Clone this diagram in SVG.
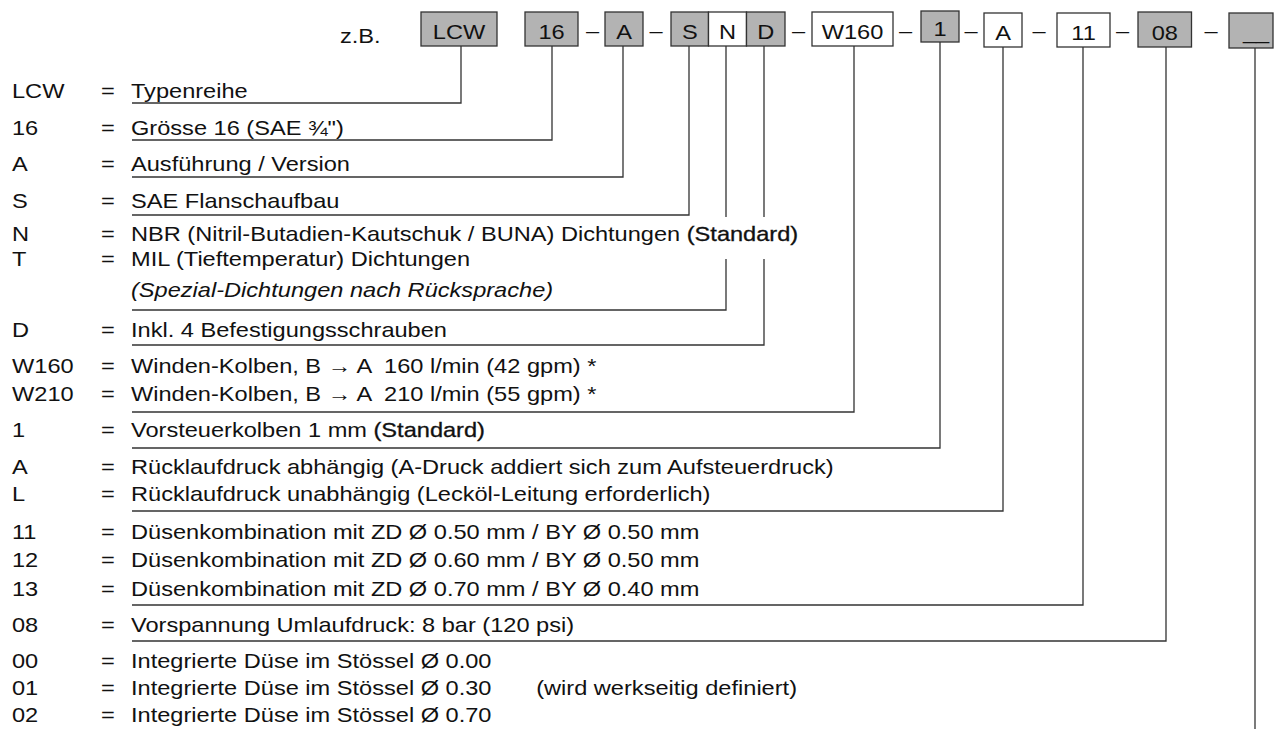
<svg xmlns="http://www.w3.org/2000/svg" width="1274" height="729" viewBox="0 0 1274 729">
<style>
.t{font-family:"Liberation Sans",Arial,sans-serif;font-size:20px;fill:#111}
.c{text-anchor:middle}
.e{text-anchor:end}
.b{stroke:#111;stroke-width:0.3}
.i{font-style:italic}
.g{fill:#b3b3b3;stroke:#333;stroke-width:1.3}
.w{fill:#fff;stroke:#333;stroke-width:1.3}
.ln{fill:none;stroke:#333;stroke-width:1.3}
</style>
<rect width="1274" height="729" fill="#fff"/>
<g id="connectors" class="ln">
<path d="M461,46V103H132"/>
<path d="M552,46V140H132"/>
<path d="M623,46V177H132"/>
<path d="M689,46V215H132"/>
<path d="M726,46V217M726,259V310H132"/>
<path d="M764,46V217M764,259V345H132"/>
<path d="M854,46V412H132"/>
<path d="M940,42V448H132"/>
<path d="M1003,47V511H132"/>
<path d="M1083,47V605H132"/>
<path d="M1166,47V641H132"/>
<path d="M1255,48V729"/>
</g>
<g id="header">
<text class="t" transform="translate(340,43) scale(1.18,1)">z.B.</text>
<g id="box-LCW"><rect class="g" x="421" y="12" width="76" height="34"/><text class="t c" transform="translate(459,38.5) scale(1.18,1)">LCW</text></g>
<g id="box-16"><rect class="g" x="525" y="12" width="53" height="34"/><text class="t c" transform="translate(551.5,38.5) scale(1.18,1)">16</text></g>
<text class="t c" transform="translate(592.5,38) scale(1.18,1)">–</text>
<g id="box-A"><rect class="g" x="605" y="12" width="38" height="34"/><text class="t c" transform="translate(624,38.5) scale(1.18,1)">A</text></g>
<text class="t c" transform="translate(656,38) scale(1.18,1)">–</text>
<g id="box-S"><rect class="g" x="671" y="12" width="37.5" height="34"/><text class="t c" transform="translate(689.8,38.5) scale(1.18,1)">S</text></g>
<g id="box-N"><rect class="w" x="708.5" y="12" width="38" height="34"/><text class="t c" transform="translate(727.5,38.5) scale(1.18,1)">N</text></g>
<g id="box-D"><rect class="g" x="746.5" y="12" width="38.5" height="34"/><text class="t c" transform="translate(765.8,38.5) scale(1.18,1)">D</text></g>
<text class="t c" transform="translate(798.5,38) scale(1.18,1)">–</text>
<g id="box-W160"><rect class="w" x="812" y="12" width="81" height="34"/><text class="t c" transform="translate(852.5,38.5) scale(1.18,1)">W160</text></g>
<text class="t c" transform="translate(905.5,38) scale(1.18,1)">–</text>
<g id="box-1"><rect class="g" x="921" y="11" width="38" height="31"/><text class="t c" transform="translate(940,36) scale(1.18,1)">1</text></g>
<text class="t c" transform="translate(971,38) scale(1.18,1)">–</text>
<g id="box-A2"><rect class="w" x="984" y="13" width="38" height="34"/><text class="t c" transform="translate(1003,39.5) scale(1.18,1)">A</text></g>
<text class="t c" transform="translate(1039,38) scale(1.18,1)">–</text>
<g id="box-11"><rect class="w" x="1057" y="13" width="53" height="34"/><text class="t c" transform="translate(1083.5,39.5) scale(1.18,1)">11</text></g>
<text class="t c" transform="translate(1122.5,38) scale(1.18,1)">–</text>
<g id="box-08"><rect class="g" x="1138" y="12" width="53.5" height="35"/><text class="t c" transform="translate(1164.8,39.5) scale(1.18,1)">08</text></g>
<text class="t c" transform="translate(1211,38) scale(1.18,1)">–</text>
<g id="box-last"><rect class="g" x="1229" y="13" width="44" height="35"/><text class="t c" transform="translate(1256,39) scale(1.18,1)">__</text></g>
</g>
<g id="legend">
<text class="t" transform="translate(12,98) scale(1.18,1)">LCW</text><text class="t" transform="translate(101,98) scale(1.18,1)">=</text><text class="t" transform="translate(131,98) scale(1.18,1)">Typenreihe</text>
<text class="t" transform="translate(12,135) scale(1.18,1)">16</text><text class="t" transform="translate(101,135) scale(1.18,1)">=</text><text class="t" transform="translate(131,135) scale(1.18,1)">Grösse 16 (SAE ¾")</text>
<text class="t" transform="translate(12,171) scale(1.18,1)">A</text><text class="t" transform="translate(101,171) scale(1.18,1)">=</text><text class="t" transform="translate(131,171) scale(1.18,1)">Ausführung / Version</text>
<text class="t" transform="translate(12,208) scale(1.18,1)">S</text><text class="t" transform="translate(101,208) scale(1.18,1)">=</text><text class="t" transform="translate(131,208) scale(1.18,1)">SAE Flanschaufbau</text>
<text class="t" transform="translate(12,241) scale(1.18,1)">N</text><text class="t" transform="translate(101,241) scale(1.18,1)">=</text><text class="t" transform="translate(131,241) scale(1.18,1)">NBR (Nitril-Butadien-Kautschuk / BUNA) Dichtungen <tspan class="b">(Standard)</tspan></text>
<text class="t" transform="translate(12,266) scale(1.18,1)">T</text><text class="t" transform="translate(101,266) scale(1.18,1)">=</text><text class="t" transform="translate(131,266) scale(1.18,1)">MIL (Tieftemperatur) Dichtungen</text>
<text class="t i" transform="translate(131,297) scale(1.18,1)">(Spezial-Dichtungen nach Rücksprache)</text>
<text class="t" transform="translate(12,337) scale(1.18,1)">D</text><text class="t" transform="translate(101,337) scale(1.18,1)">=</text><text class="t" transform="translate(131,337) scale(1.18,1)">Inkl. 4 Befestigungsschrauben</text>
<text class="t" transform="translate(12,373) scale(1.18,1)">W160</text><text class="t" transform="translate(101,373) scale(1.18,1)">=</text><text class="t" transform="translate(131,373) scale(1.18,1)">Winden-Kolben, B → A &#160;160 l/min (42 gpm) *</text>
<text class="t" transform="translate(12,401) scale(1.18,1)">W210</text><text class="t" transform="translate(101,401) scale(1.18,1)">=</text><text class="t" transform="translate(131,401) scale(1.18,1)">Winden-Kolben, B → A &#160;210 l/min (55 gpm) *</text>
<text class="t" transform="translate(12,437) scale(1.18,1)">1</text><text class="t" transform="translate(101,437) scale(1.18,1)">=</text><text class="t" transform="translate(131,437) scale(1.18,1)">Vorsteuerkolben 1 mm <tspan class="b">(Standard)</tspan></text>
<text class="t" transform="translate(12,474) scale(1.18,1)">A</text><text class="t" transform="translate(101,474) scale(1.18,1)">=</text><text class="t" transform="translate(131,474) scale(1.18,1)">Rücklaufdruck abhängig (A-Druck addiert sich zum Aufsteuerdruck)</text>
<text class="t" transform="translate(12,501) scale(1.18,1)">L</text><text class="t" transform="translate(101,501) scale(1.18,1)">=</text><text class="t" transform="translate(131,501) scale(1.18,1)">Rücklaufdruck unabhängig (Lecköl-Leitung erforderlich)</text>
<text class="t" transform="translate(12,539) scale(1.18,1)">11</text><text class="t" transform="translate(101,539) scale(1.18,1)">=</text><text class="t" transform="translate(131,539) scale(1.18,1)">Düsenkombination mit ZD Ø 0.50 mm / BY Ø 0.50 mm</text>
<text class="t" transform="translate(12,567) scale(1.18,1)">12</text><text class="t" transform="translate(101,567) scale(1.18,1)">=</text><text class="t" transform="translate(131,567) scale(1.18,1)">Düsenkombination mit ZD Ø 0.60 mm / BY Ø 0.50 mm</text>
<text class="t" transform="translate(12,596) scale(1.18,1)">13</text><text class="t" transform="translate(101,596) scale(1.18,1)">=</text><text class="t" transform="translate(131,596) scale(1.18,1)">Düsenkombination mit ZD Ø 0.70 mm / BY Ø 0.40 mm</text>
<text class="t" transform="translate(12,632) scale(1.18,1)">08</text><text class="t" transform="translate(101,632) scale(1.18,1)">=</text><text class="t" transform="translate(131,632) scale(1.18,1)">Vorspannung Umlaufdruck: 8 bar (120 psi)</text>
<text class="t" transform="translate(12,668) scale(1.18,1)">00</text><text class="t" transform="translate(101,668) scale(1.18,1)">=</text><text class="t" transform="translate(131,668) scale(1.18,1)">Integrierte Düse im Stössel Ø 0.00</text>
<text class="t" transform="translate(12,695) scale(1.18,1)">01</text><text class="t" transform="translate(101,695) scale(1.18,1)">=</text><text class="t" transform="translate(131,695) scale(1.18,1)">Integrierte Düse im Stössel Ø 0.30</text>
<text class="t e" transform="translate(797,695) scale(1.18,1)">(wird werkseitig definiert)</text>
<text class="t" transform="translate(12,722) scale(1.18,1)">02</text><text class="t" transform="translate(101,722) scale(1.18,1)">=</text><text class="t" transform="translate(131,722) scale(1.18,1)">Integrierte Düse im Stössel Ø 0.70</text>
</g>
</svg>
